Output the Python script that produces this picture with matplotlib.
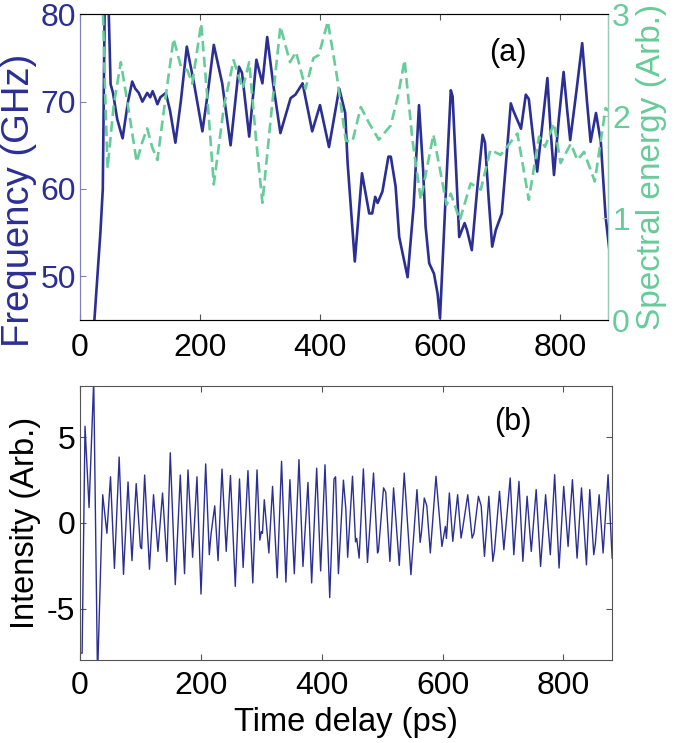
import matplotlib
matplotlib.use("Agg")
import matplotlib.pyplot as plt

plt.rcParams['font.family'] = ['Liberation Sans', 'DejaVu Sans']
plt.rcParams['axes.unicode_minus'] = False

BLUE = '#2b2f94'
GREEN = '#66cc99'

# (a) frequency trace, ps / GHz
freq_t = [23, 34, 38, 41, 44, 48, 51, 55, 62, 71, 80, 87, 92, 98, 104, 108, 112, 117,
          121, 125, 129, 134, 143, 150, 159, 168, 178, 190, 204, 213, 223, 237, 251,
          265, 270, 282, 294, 304, 312, 322, 334, 351, 359, 371, 387, 400, 415, 432,
          442, 446, 458, 470, 482, 487, 492, 496, 504, 514, 518, 526, 532, 546, 556,
          565, 572, 576, 582, 590, 596, 600, 610, 618, 621, 627, 632, 641, 645, 653,
          662, 671, 675, 681, 687, 693, 703, 710, 718, 722, 735, 743, 748, 755, 762,
          770, 779, 784, 790, 798, 806, 812, 817, 827, 837, 845, 851, 860, 868, 876, 882]
freq_v = [44, 55, 60, 80, 84, 80, 72, 71, 68, 65.8, 70, 72.3, 71.5, 71, 70, 70.5, 71, 70.5,
          71.2, 70.5, 69.7, 70.5, 71, 69, 65.3, 70, 76.3, 72.1, 66.6, 71, 76.5, 72.1, 65.0,
          74, 73.3, 66, 74.8, 72.1, 77.4, 72, 66.4, 70.4, 70.8, 72.1, 66.6, 69.6, 64.8, 71.5,
          68.7, 63, 51.7, 61.8, 57.2, 57.2, 59.1, 58.4, 59.7, 63.7, 63.7, 60.3, 54.5, 49.9, 58,
          69.6, 62, 55.7, 51.5, 50.3, 48, 45.2, 60, 71.3, 70.6, 62, 54.5, 56.1, 55.3, 53,
          60, 66.2, 65.3, 59, 53.4, 55.3, 57.2, 63, 69.8, 69.0, 66.9, 70.8, 70.3, 66, 62,
          67, 72.7, 67, 61.6, 68, 73.4, 69, 65.6, 71, 76.7, 70, 65.4, 68.7, 65.4, 56.8, 53.2]

# (a) spectral energy, arb.
spec_t = [37, 42, 46, 56, 68, 80, 94.5, 104, 112, 120, 129, 143, 156, 168, 179, 187, 202,
          212, 223, 240, 256, 271, 282, 293, 304, 320, 334, 350, 360, 376, 389, 398, 413,
          428, 443, 454, 468, 482, 498, 518, 530, 541, 554, 568, 589, 611, 618, 633, 651,
          668, 684, 701, 729, 748, 765, 775, 790, 801, 818, 829, 840, 858, 876, 882]
spec_v = [3.3, 2.2, 1.49, 2.1, 2.53, 2.1, 1.55, 1.75, 1.88, 1.7, 1.57, 2.2, 2.76, 2.49, 2.45,
          2.32, 2.91, 2.2, 1.33, 2.1, 2.55, 2.27, 2.53, 1.8, 1.15, 2.1, 2.88, 2.53, 2.63, 2.27,
          2.57, 2.6, 2.93, 2.4, 1.76, 1.75, 2.09, 1.93, 1.77, 1.91, 2.2, 2.55, 1.77, 1.18, 1.82,
          1.13, 1.24, 0.98, 1.34, 1.28, 1.67, 1.62, 1.83, 1.18, 1.8, 1.70, 1.93, 1.54, 1.73,
          1.57, 1.65, 1.36, 2.08, 2.05]

# (b) intensity trace, ps / arb.
int_t = [0, 3.5, 8.3, 15, 22.7, 29, 37.6, 44.5, 50.5, 57, 64.8, 72, 79.5, 86, 93, 100, 102,
         107, 115, 121.7, 129, 136.6, 143.8, 149.4, 157.7, 166, 173, 178.7, 186.4, 193.6,
         200.3, 208, 214, 217, 223, 228.5, 235, 242, 249, 257, 264, 270, 278, 286, 293,
         297.6, 300, 302, 305, 312.6, 318.7, 326.4, 333.6, 340.8, 347.4, 354.7, 362.4, 369,
         377.3, 383.4, 391.7, 398.3, 405.5, 413.3, 420.4, 423, 427.7, 436, 440, 443, 451,
         456, 458, 462, 469, 475.8, 485.8, 492.4, 494, 502.4, 506, 512.9, 519, 528.4, 536.6,
         547.7, 557.7, 563, 565, 569.8, 574, 579.8, 589.2, 599, 604.7, 606.5, 611.3, 617,
         625, 630.7, 633, 641.8, 649, 652, 659.4, 664, 669.4, 676.7, 683.3, 686, 694.3,
         701.5, 712, 718, 726.5, 733, 740, 746.9, 755, 762.3, 770.6, 778.4, 785.6, 792.9,
         800.6, 807.8, 815, 822.7, 830, 838.2, 843.7, 850.3, 853, 859.2, 865.8, 874, 880.7]
int_v = [-7.6, -7.6, 5.65, 0.9, 8.3, -9, 1.65, -0.6, 2.7, -2.65, 3.85, -3.0, 2.4, -2.2, 2.3,
         -1.4, -1.5, 2.8, -2.7, 1.65, -1.66, 1.75, -2.25, 4.1, -3.6, 2.8, -2.96, 3.1, -2.0,
         2.7, -4.15, 3.45, -1.85, -0.6, 1.0, -2.2, 3.15, -1.66, 2.77, -3.7, 2.57, -2.6, 3.06,
         -3.5, 3.1, -1.0, -0.5, -0.6, 1.36, -1.75, 2.14, -3.2, 3.6, -3.45, 2.53, -2.96, 3.7,
         -2.54, 2.37, -3.5, 3.2, -2.8, 3.4, -4.35, 2.57, 2.7, -2.96, 2.5, 0.8, -2.0, 2.73,
         -1.1, -0.9, -2.05, 3.16, -2.3, 2.92, -1.75, -1.6, 2.05, 1.8, -2.24, 2.05, -2.48, 2.92,
         -3.02, 1.95, -1.13, -0.6, 1.46, 1.0, -1.75, 2.73, -1.37, -0.2, -0.9, 1.75, -1.07,
         1.65, -0.88, -0.4, 1.65, -0.88, -0.6, 1.56, 1.0, -1.95, 1.56, -2.24, -1.6, 1.85,
         -1.56, 2.63, -1.85, 2.43, -2.24, 1.56, -1.66, 1.95, -2.54, 1.65, -1.85, 2.82, -2.63,
         2.14, -1.37, 2.53, -2.05, 2.05, -2.44, 1.95, -1.85, -1.2, 1.65, -1.75, 2.82, -2.05]

W, H = 675, 743
fig = plt.figure(figsize=(W / 100, H / 100), dpi=100)

# panel (a)
ax1 = fig.add_axes([80 / W, 1 - 320 / H, (608 - 80) / W, (320 - 14.3) / H])
ax1.plot(freq_t, freq_v, color=BLUE, lw=1.9, solid_joinstyle='round')
ax1.set_xlim(0, 880)
ax1.set_ylim(45, 80)
ax1.set_yticks([50, 60, 70, 80])
ax1.set_xticks([0, 200, 400, 600, 800])
ax1.set_ylabel('Frequency (GHz)', color=BLUE, fontsize=27.5)
ax1.yaxis.set_label_coords(-0.082, 0.39)
ax1.tick_params(axis='y', colors='#8080c0', labelcolor=BLUE, labelsize=23,
                direction='in', length=4, pad=3)
ax1.tick_params(axis='x', colors='#555555', labelcolor='black', labelsize=23,
                direction='in', length=4, top=True, pad=9)
ax1.spines['left'].set_color('#8080c0')
ax1.spines['top'].set_color('#555555')
ax1.spines['bottom'].set_color('#555555')

ax2 = ax1.twinx()
ax2.plot(spec_t, spec_v, color=GREEN, lw=1.9, dashes=(4, 2))
ax2.set_ylim(0, 3)
ax2.set_yticks([0, 1, 2, 3])
ax2.set_ylabel('Spectral energy (Arb.)', color=GREEN, fontsize=24, labelpad=4)
ax2.tick_params(axis='y', colors='#99ccb3', labelcolor=GREEN, labelsize=23,
                direction='in', length=4, pad=3)
ax2.spines['right'].set_color('#99ccb3')
ax2.spines['left'].set_color('#8080c0')
ax1.text(0.81, 0.875, '(a)', transform=ax1.transAxes, fontsize=22,
         ha='center', va='center')

# panel (b)
ax3 = fig.add_axes([80 / W, 1 - 660 / H, (611.7 - 80) / W, (660 - 386) / H])
ax3.plot(int_t, int_v, color=BLUE, lw=1.0)
ax3.set_xlim(0, 880)
ax3.set_ylim(-8, 8)
ax3.set_yticks([-5, 0, 5])
ax3.set_xticks([0, 200, 400, 600, 800])
ax3.set_xlabel('Time delay (ps)', fontsize=23.5, labelpad=4)
ax3.set_ylabel('Intensity (Arb.)', fontsize=23.5, labelpad=4)
ax3.tick_params(colors='#555555', labelcolor='black', labelsize=23,
                direction='in', length=4, top=True, right=True)
ax3.tick_params(axis='x', pad=8)
for s in ax3.spines.values():
    s.set_color('#555555')
ax3.text(0.814, 0.87, '(b)', transform=ax3.transAxes, fontsize=22,
         ha='center', va='center')

fig.savefig('out.png', dpi=100)
